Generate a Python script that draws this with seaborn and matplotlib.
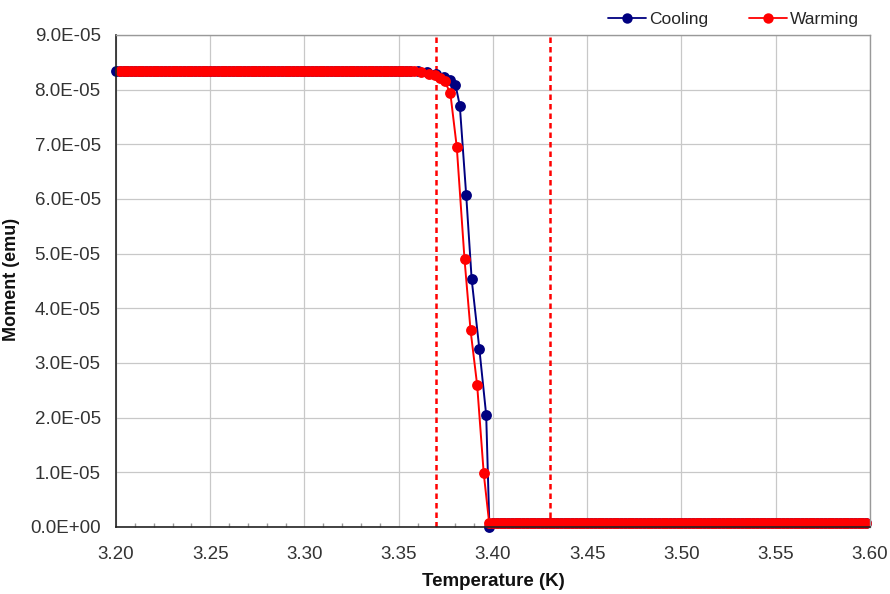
import numpy as np
import pandas as pd
import matplotlib
matplotlib.use("Agg")
import matplotlib.pyplot as plt
from matplotlib.ticker import FuncFormatter, MultipleLocator
import seaborn as sns

# ---------------- data ----------------
# plateau levels (emu)
high_level = 8.35e-5
low_level = 0.07e-5

# measurement temperature grids on the plateaus (K)
cool_T_high = np.arange(3.200, 3.3561, 0.002)
warm_T_high = np.arange(3.202, 3.3561, 0.002)
low_T = np.arange(3.400, 3.5981, 0.002)

# transition region points
cool_T_trans = [3.3600, 3.3650, 3.3700, 3.3740, 3.3770, 3.3801, 3.3824, 3.3858,
                3.3887, 3.3928, 3.3964, 3.3981]
cool_M_trans = [8.34e-5, 8.32e-5, 8.29e-5, 8.24e-5, 8.18e-5, 8.09e-5, 7.71e-5,
                6.07e-5, 4.53e-5, 3.25e-5, 2.05e-5, 0.0]

warm_T_trans = [3.3580, 3.3620, 3.3660, 3.3690, 3.3720, 3.3745, 3.3774, 3.3808,
                3.3849, 3.3881, 3.3916, 3.3951, 3.3980]
warm_M_trans = [8.34e-5, 8.32e-5, 8.29e-5, 8.26e-5, 8.22e-5, 8.15e-5, 7.93e-5, 6.95e-5,
                4.90e-5, 3.60e-5, 2.60e-5, 0.98e-5, 0.07e-5]

marker_lines = [3.37, 3.43]
series = ["Cooling", "Warming"]
x_ticks = [3.20, 3.25, 3.30, 3.35, 3.40, 3.45, 3.50, 3.55, 3.60]

cool_T = np.concatenate([cool_T_high, cool_T_trans, low_T])
cool_M = np.concatenate([np.full(len(cool_T_high), high_level), cool_M_trans,
                         np.full(len(low_T), low_level)])
warm_T = np.concatenate([warm_T_high, warm_T_trans, low_T])
warm_M = np.concatenate([np.full(len(warm_T_high), high_level), warm_M_trans,
                         np.full(len(low_T), low_level)])

df = pd.DataFrame({
    "T": np.concatenate([cool_T, warm_T]),
    "M": np.concatenate([cool_M, warm_M]),
    "Run": [series[0]] * len(cool_T) + [series[1]] * len(warm_T),
})

# ---------------- figure ----------------
sns.set_theme(style="white")
plt.rcParams["font.family"] = ["Liberation Sans", "DejaVu Sans"]

fig = plt.figure(figsize=(8.9, 5.94), dpi=100)
ax = fig.add_axes([0.1303, 0.1128, 0.9775 - 0.1303, 0.9411 - 0.1128])

palette = {"Cooling": "#000080", "Warming": "#FF0000"}
sns.lineplot(data=df, x="T", y="M", hue="Run", hue_order=series, palette=palette,
             sort=False, estimator=None, marker="o", markersize=7.8,
             markeredgewidth=0, linewidth=1.4, ax=ax, legend=False, clip_on=False)

for xv in marker_lines:
    ax.axvline(xv, color="#FF0000", linestyle=(0, (2.2, 1.6)), linewidth=1.8, zorder=1)

ax.set_xlim(3.20, 3.60)
ax.set_ylim(0, 9e-5)
ax.set_xticks(x_ticks)
ax.xaxis.set_major_formatter(FuncFormatter(lambda v, p: f"{v:.2f}"))
ax.xaxis.set_minor_locator(MultipleLocator(0.01))
ax.yaxis.set_major_locator(MultipleLocator(1e-5))
ax.yaxis.set_major_formatter(FuncFormatter(lambda v, p: f"{v:.1E}"))

ax.grid(True, which="major", color="#c8c8c8", linewidth=0.9)
ax.set_axisbelow(True)
ax.tick_params(axis="both", which="major", labelsize=13.5, labelcolor="#333333",
               length=0)
ax.tick_params(axis="x", which="major", pad=14)
ax.tick_params(axis="y", which="major", pad=11)
ax.tick_params(axis="x", which="minor", direction="in", length=3, color="#999999",
               bottom=True)

for side in ["left", "bottom"]:
    ax.spines[side].set_color("#222222")
    ax.spines[side].set_linewidth(1.2)
for side in ["top", "right"]:
    ax.spines[side].set_color("#999999")
    ax.spines[side].set_linewidth(1.0)

ax.set_xlabel("Temperature (K)", fontsize=13.5, fontweight="bold", color="#111111",
              labelpad=7)
ax.set_ylabel("")
fig.text(0.013, 0.53, "Moment (emu)", rotation=90, ha="center", va="center",
         fontsize=13, fontweight="bold", color="#111111")

handles = [plt.Line2D([], [], color=palette[s], marker="o", markersize=7.5,
                      markeredgewidth=0, linewidth=1.3) for s in series]
fig.legend(handles, series, loc="upper right", bbox_to_anchor=(0.983, 1.007),
           ncol=2, frameon=False, fontsize=12.5, handlelength=2.2,
           handletextpad=0.2, columnspacing=2.3)

fig.savefig("out.png", dpi=100)
